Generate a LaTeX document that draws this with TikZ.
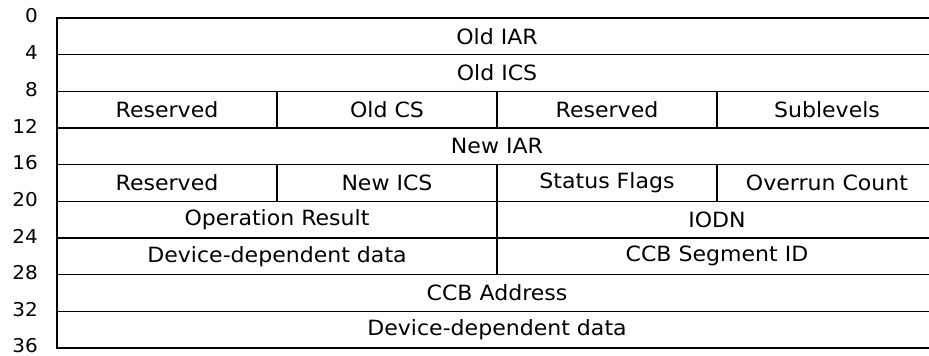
\documentclass[tikz,border=0pt]{standalone}
\usepackage{fontspec}
\setmainfont[FakeStretch=1.05]{DejaVu Sans}
\tikzset{
  cell/.style={draw, line width=1.2pt, minimum height=36.67pt, inner sep=0pt,
    font=\fontsize{21}{23}\selectfont},
  full/.style={cell, minimum width=880pt},
  half/.style={cell, minimum width=440pt},
  quarter/.style={cell, minimum width=220pt},
  offs/.style={anchor=east, inner sep=0pt, font=\fontsize{19}{21}\selectfont}
}
\begin{document}
\begin{tikzpicture}[x=1pt,y=-1pt]
\useasboundingbox (0,0) rectangle (929,356);

% words 0 to 8 of the block
\node[full] (oldiar) at (497,36.3) {Old IAR};
\node[full] (oldics) at (497,73.0) {Old ICS};
\node[quarter] (res1) at (167,109.7) {Reserved};
\node[quarter] (oldcs) at (387,109.7) {Old CS};
\node[quarter] (res2) at (607,109.7) {Reserved};
\node[quarter] (sublev) at (827,109.7) {Sublevels};
\node[full] (newiar) at (497,146.3) {New IAR};
\node[quarter] (res3) at (167,183.0) {Reserved};
\node[quarter] (newics) at (387,183.0) {New ICS};
\node[quarter] (status) at (607,183.0) {Status Flags};
\node[quarter] (overrun) at (827,183.0) {Overrun Count};
\node[half] (opres) at (277,219.7) {Operation Result};
\node[half] (iodn) at (717,219.7) {IODN};
\node[half] (devdata1) at (277,256.3) {Device-dependent data};
\node[half] (ccbseg) at (717,256.3) {CCB Segment ID};
\node[full] (ccbaddr) at (497,293.0) {CCB Address};
\node[full] (devdata2) at (497,329.7) {Device-dependent data};

% byte offsets
\foreach \o in {0,4,...,36}
{
    \node[offs] (off\o) at (38,16+\o*9.1667) {\o};
}

\end{tikzpicture}
\end{document}
